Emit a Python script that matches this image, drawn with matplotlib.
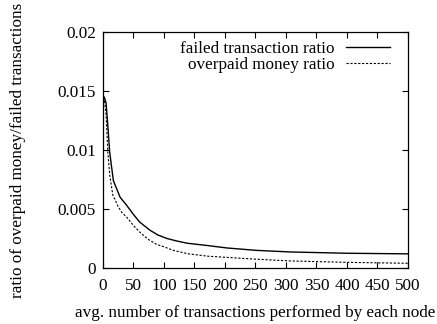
import numpy as np
import matplotlib
matplotlib.use("Agg")
import matplotlib.pyplot as plt

# values
failed_x = [0, 2, 5, 8, 11, 17, 28, 39, 49, 60, 77, 90, 105, 120, 138, 172, 203, 250, 307, 400, 500]
failed_y = [0.0140, 0.0145, 0.0140, 0.0120, 0.0098, 0.0074, 0.0060, 0.0053, 0.0046, 0.0039, 0.0032,
            0.0028, 0.0025, 0.0023, 0.0021, 0.0019, 0.0017, 0.0015, 0.00136, 0.00125, 0.0012]

overpaid_x = [0, 2, 5, 8, 11, 16, 25, 31, 39, 50, 61, 75, 88, 100, 115, 140, 172, 203, 250, 307, 400, 500]
overpaid_y = [0.0140, 0.0144, 0.0130, 0.0098, 0.0079, 0.0062, 0.0052, 0.0047, 0.0043, 0.0036, 0.0030,
              0.0024, 0.0020, 0.0018, 0.0015, 0.0012, 0.0010, 0.0009, 0.00075, 0.0006, 0.00048, 0.0004]

x_ticks = [0, 50, 100, 150, 200, 250, 300, 350, 400, 450, 500]
y_ticks = [0, 0.005, 0.01, 0.015, 0.02]
y_tick_labels = ["0", "0.005", "0.01", "0.015", "0.02"]

plt.rcParams['font.family'] = ['Liberation Serif', 'DejaVu Serif']
plt.rcParams['font.size'] = 12.3

fig = plt.figure(figsize=(4.37, 3.24), dpi=100)
ax = fig.add_axes([0.2357, 0.1728, 0.6979, 0.7284])

ax.plot(failed_x, failed_y, color='black', lw=1.0, label='failed transaction ratio')
ax.plot(overpaid_x, overpaid_y, color='black', lw=0.8, dashes=(2, 1.5), label='overpaid money ratio')

ax.set_xlim(0, 500)
ax.set_ylim(0, 0.02)
ax.set_xticks(x_ticks)
ax.set_yticks(y_ticks)
ax.set_yticklabels(y_tick_labels)
ax.tick_params(direction='in', top=True, right=True, length=4, width=0.8, pad=7)
ax.tick_params(axis='y', pad=5)
for s in ax.spines.values():
    s.set_linewidth(0.9)

ax.set_xlabel('avg. number of transactions performed by each node', labelpad=8)
ax.set_ylabel('ratio of overpaid money/failed transactions', labelpad=23)

ax.legend(loc='upper right', frameon=False, markerfirst=False, handlelength=2.6,
          handletextpad=0.65, labelspacing=0.0, borderaxespad=0.1,
          bbox_to_anchor=(0.97, 1.0))

fig.savefig('out.png', dpi=100)
